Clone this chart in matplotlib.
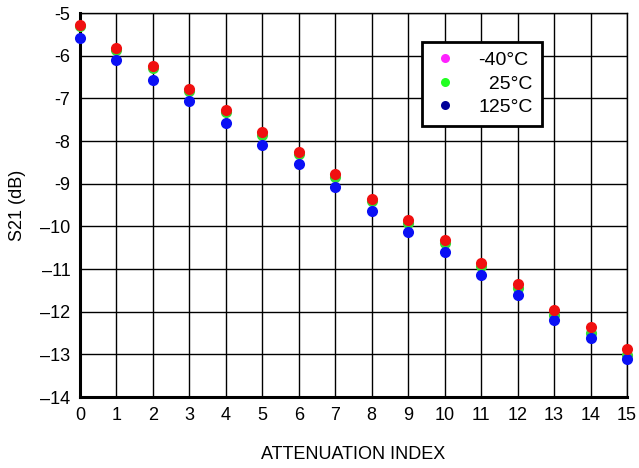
import matplotlib
matplotlib.use("Agg")
import matplotlib.pyplot as plt
from matplotlib.lines import Line2D
import numpy as np

plt.rcParams['font.family'] = ['Liberation Sans Narrow', 'Liberation Sans', 'DejaVu Sans']

# attenuation index 0..15
att_index = np.arange(16)

# S21 (dB)
s21_m40 = [-5.27, -5.81, -6.24, -6.77, -7.28, -7.80, -8.25, -8.78,
           -9.35, -9.86, -10.33, -10.85, -11.36, -11.96, -12.36, -12.87]
s21_25 = [-5.31, -5.86, -6.29, -6.82, -7.33, -7.85, -8.30, -8.84,
          -9.41, -9.93, -10.40, -10.93, -11.44, -12.07, -12.50, -13.01]
s21_125 = [-5.58, -6.11, -6.56, -7.07, -7.58, -8.10, -8.54, -9.07,
           -9.63, -10.14, -10.60, -11.15, -11.61, -12.19, -12.62, -13.12]

labels = ['-40°C', '\u200725°C', '125°C']

fig = plt.figure(figsize=(6.39, 4.68), dpi=100)
ax = fig.add_axes([80 / 639, 1 - 397 / 468, 547 / 639, 384 / 468])

ms = 8
ax.plot(att_index, s21_25, 'o', color='#33dd33', ms=ms, mec='none', zorder=3, clip_on=False)
ax.plot(att_index, s21_125, 'o', color='#0a10f5', ms=ms, mec='none', zorder=4, clip_on=False)
ax.plot(att_index, s21_m40, 'o', color='#f01010', ms=ms, mec='none', zorder=5, clip_on=False)

ax.set_xlim(0, 15)
ax.set_ylim(-14, -5)
ax.set_xticks(att_index)
ax.set_yticks(np.arange(-14, -4, 1))
ax.set_yticklabels([str(v).replace('-', '\u2013') if v < -9 else str(v) for v in range(-14, -4)])
ax.grid(True, color='black', lw=1.0)
ax.set_axisbelow(True)
ax.tick_params(length=0, labelsize=13, pad=7)
for side in ['left', 'bottom']:
    ax.spines[side].set_linewidth(2.2)
for side in ['top', 'right']:
    ax.spines[side].set_linewidth(1.0)

ax.set_xlabel('ATTENUATION INDEX', fontsize=13, labelpad=16)
ax.set_ylabel('S21 (dB)', fontsize=13, labelpad=10)

# legend colours differ from the marker colours in the original
handles = [Line2D([], [], ls='none', marker='o', color=c, mec='none', ms=6.5)
           for c in ['#ff22ff', '#22ff22', '#000099']]
leg = ax.legend(handles, labels, loc='upper left', bbox_to_anchor=(0.625, 0.925),
                fontsize=14, frameon=True, fancybox=False, handlelength=1.4,
                handletextpad=1.0, borderpad=0.5, labelspacing=0.3, borderaxespad=0)
leg.get_frame().set_edgecolor('black')
leg.get_frame().set_linewidth(2.0)
leg.get_frame().set_alpha(1.0)
leg.set_zorder(6)

fig.savefig('out.png', dpi=100)
